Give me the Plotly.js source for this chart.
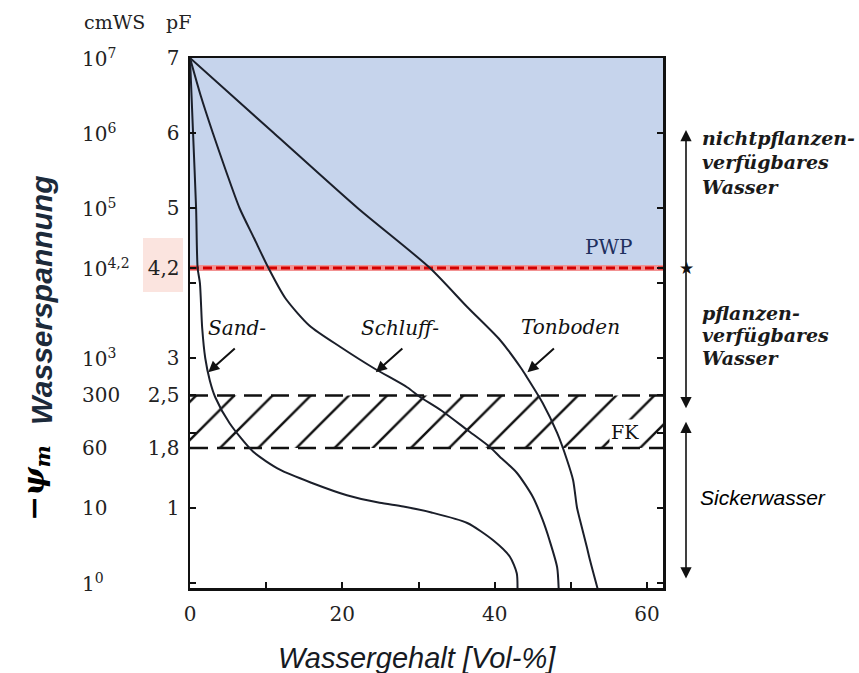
<!DOCTYPE html>
<html><head><meta charset="utf-8">
<script src="https://cdn.plot.ly/plotly-3.0.1.min.js"></script>
<style>html,body{margin:0;padding:0;background:#fff}#chart{width:859px;height:673px}</style>
</head><body><div id="chart"></div>
<script>
// ---- data (x = Wassergehalt Vol-%, y = pF) ----
const sandX  = [0, 0.4, 0.8, 1.0, 1.3, 1.6, 2.0, 2.6, 3.3, 5.2, 8.3, 11.8, 16.1, 20.6, 24.9, 28.0, 31.7, 36.4, 39.8, 42.0, 42.9, 43.0];
const sandPF = [7, 6.0, 5.0, 4.2, 4.0, 3.4, 3.0, 2.7, 2.48, 2.13, 1.75, 1.51, 1.33, 1.17, 1.07, 1.02, 0.94, 0.8, 0.57, 0.35, 0.13, -0.07];
const schluffX  = [0, 1.4, 3.0, 4.7, 6.5, 8.4, 10.3, 12.5, 15.7, 19.7, 24.2, 28.5, 30.2, 33.0, 36.4, 39.4, 40.7, 42.9, 45.0, 46.3, 47.2, 48.2, 48.4];
const schluffPF = [7, 6.5, 6.0, 5.5, 5.0, 4.6, 4.2, 3.8, 3.43, 3.15, 2.86, 2.61, 2.48, 2.3, 2.04, 1.81, 1.68, 1.47, 1.15, 0.84, 0.57, 0.21, -0.07];
const tonX  = [0, 11.0, 22.0, 31.5, 36.4, 40.7, 43.5, 44.2, 46.3, 48.2, 49.5, 50.3, 50.8, 51.2, 52.1, 52.5, 53.5];
const tonPF = [7, 6.0, 5.0, 4.2, 3.68, 3.24, 2.86, 2.75, 2.4, 2.0, 1.64, 1.37, 1.01, 0.84, 0.48, 0.31, -0.07];

const pwp = 4.2, fkLow = 1.8, fkHigh = 2.5, pfMax = 7, pfMin = -0.067, xMax = 62.1;
const nfwTop = 6.04, pfwBottom = 2.33, sickTop = 2.15, sickBottom = 0.04;

const pfTickVals = [1, 1.8, 2.5, 3, 4.2, 5, 6, 7];
const pfTickText = ['1', '1,8', '2,5', '3', '4,2', '5', '6', '7'];
const pfMinorTicks = [0, 2, 4];
const cmwsVals = [7, 6, 5, 4.2, 3, 2.5, 1.8, 1, 0];
const cmwsText = ['10<sup>7</sup>', '10<sup>6</sup>', '10<sup>5</sup>', '10<sup>4,2</sup>', '10<sup>3</sup>', '300', '60', '10', '1<sup>0</sup>'];
const xTickVals = [0, 20, 40, 60];
const xTickText = ['0', '20', '40', '60'];
const xMinorTicks = [10, 30, 50];

// ---- layout helpers (pixel -> paper) ----
const L = 190, R = 663, T = 58, B = 588;
const px = v => (v - L) / (R - L);
const py = v => (B - v) / (B - T);
const serif = 'DejaVu Serif';
const ink = '#1b1f2a';

const curve = (x, y) => ({x, y, type: 'scatter', mode: 'lines', line: {color: ink, width: 2, shape: 'spline', smoothing: 0.7}, hoverinfo: 'skip', showlegend: false});

const traces = [
  {x: [0, xMax, xMax, 0], y: [fkLow, fkLow, fkHigh, fkHigh], type: 'scatter', mode: 'lines', fill: 'toself',
   line: {width: 0}, fillcolor: 'rgba(0,0,0,0)',
   fillpattern: {shape: '/', fgcolor: '#111', bgcolor: 'rgba(255,255,255,0)', size: 27, solidity: 0.09}, showlegend: false, hoverinfo: 'skip'},
  {x: [0, xMax], y: [fkHigh, fkHigh], type: 'scatter', mode: 'lines', line: {color: '#111', width: 2.5, dash: '18px,9px'}, showlegend: false},
  {x: [0, xMax], y: [fkLow, fkLow], type: 'scatter', mode: 'lines', line: {color: '#111', width: 2.5, dash: '18px,9px'}, showlegend: false},
  {x: [0, xMax], y: [pwp, pwp], type: 'scatter', mode: 'lines', line: {color: '#f29393', width: 6}, showlegend: false},
  {x: [0, xMax], y: [pwp, pwp], type: 'scatter', mode: 'lines', line: {color: '#d40000', width: 3, dash: '9px,4px'}, showlegend: false},
  curve(sandX, sandPF),
  curve(schluffX, schluffPF),
  curve(tonX, tonPF)
];

const ann = [];
const P = (o) => ann.push(Object.assign({xanchor: 'center', yanchor: 'middle', showarrow: false}, o));
// cmWS labels
cmwsVals.forEach((v, i) => P({xref: 'paper', yref: 'y', x: px(80), y: v, xanchor: 'left',
  text: cmwsText[i], font: {family: serif, size: 20, color: '#222'}}));
// header
P({xref: 'paper', yref: 'paper', x: px(114), y: py(22), text: 'cmWS', font: {family: serif, size: 19, color: '#222'}});
P({xref: 'paper', yref: 'paper', x: px(178), y: py(22), text: 'pF', font: {family: serif, size: 19, color: '#222'}});
// axis titles
P({xref: 'paper', yref: 'paper', x: px(41), y: py(300), textangle: -90, text: '<b><i>Wasserspannung</i></b>',
  font: {family: 'Liberation Sans', size: 30, color: '#1c2a3a'}});
P({xref: 'paper', yref: 'paper', x: px(36), y: py(483), textangle: -90, text: '<b><i>−ψ<sub>m</sub></i></b>',
  font: {family: serif, size: 30, color: '#000'}});
P({xref: 'paper', yref: 'paper', x: px(417), y: py(658), text: '<i>Wassergehalt [Vol-%]</i>',
  font: {family: 'Liberation Sans', size: 29, color: '#161a22'}});
// in-plot labels
const lab = (x, y, t, opts = {}) => P(Object.assign({xref: 'x', yref: 'y', x, y, text: t,
  font: {family: serif, size: 20, color: '#111'}}, opts));
lab(6.2, 3.40, '<i>Sand-</i>');
lab(27.6, 3.40, '<i>Schluff-</i>');
lab(49.9, 3.41, '<i>Tonboden</i>');
lab(54.9, 4.48, 'PWP', {font: {family: serif, size: 20, color: '#1e2f5e'}});
lab(57.1, 2.01, 'FK', {font: {family: serif, size: 19, color: '#111'}, bgcolor: '#ffffff', borderpad: 1});
// label arrows
const arr = (x, y) => ann.push({xref: 'x', yref: 'y', x, y, ax: 28, ay: -25, text: '', showarrow: true,
  arrowhead: 2, arrowsize: 1.1, arrowwidth: 2, arrowcolor: '#111'});
arr(2.4, 2.81); arr(24.4, 2.81); arr(44.3, 2.81);
// right side arrows
const vArrow = (yHead, yTail, both) => ann.push({xref: 'paper', yref: 'y', axref: 'pixel', ayref: 'y', x: px(686), y: yHead, ax: 0, ay: yTail,
  text: '', showarrow: true, arrowhead: 2, arrowsize: 1.4, arrowwidth: 1.6, arrowcolor: '#111',
  arrowside: both ? 'end+start' : 'end', startarrowhead: 2, startarrowsize: 1.4, standoff: 0, startstandoff: 0});
vArrow(nfwTop, pwp, false);
vArrow(pfwBottom, pwp, false);
vArrow(sickTop, sickBottom, true);
P({xref: 'paper', yref: 'y', x: px(686), y: pwp, text: '★', font: {family: 'DejaVu Sans', size: 17, color: '#111'}});
// right texts
const rt = (y, t) => P({xref: 'paper', yref: 'paper', x: px(700), y: py(y), xanchor: 'left', text: '<b><i>' + t + '</i></b>',
  font: {family: serif, size: 19, color: '#1a1a1a'}});
rt(138, 'nichtpflanzen-'); rt(162, 'verfügbares'); rt(187, 'Wasser');
rt(313, 'pflanzen-'); rt(335, 'verfügbares'); rt(358, 'Wasser');
P({xref: 'paper', yref: 'paper', x: px(698), y: py(497), xanchor: 'left', text: '<i>Sickerwasser</i>',
  font: {family: 'Liberation Sans', size: 21, color: '#000'}});

const layout = {
  width: 859, height: 673,
  margin: {l: L, r: 859 - R, t: T, b: 673 - B, pad: 0},
  paper_bgcolor: '#fff', plot_bgcolor: '#fff',
  showlegend: false,
  xaxis: {range: [0, xMax], tickmode: 'array', tickvals: xTickVals, ticktext: xTickText, ticks: 'inside', ticklen: 6, tickwidth: 2, tickcolor: '#111',
    minor: {tickmode: 'array', tickvals: xMinorTicks, ticks: 'inside', ticklen: 6, tickwidth: 2, tickcolor: '#111', showgrid: false},
    showgrid: false, zeroline: false, showline: true, linewidth: 2.5, linecolor: '#111', mirror: true,
    ticklabelstandoff: 6, tickfont: {family: serif, size: 20, color: '#222'}},
  yaxis: {range: [pfMin, pfMax], tickmode: 'array', tickvals: pfTickVals, ticktext: pfTickText, ticks: 'inside', ticklen: 6, tickwidth: 2, tickcolor: '#111',
    minor: {tickmode: 'array', tickvals: pfMinorTicks, ticks: 'inside', ticklen: 6, tickwidth: 2, tickcolor: '#111', showgrid: false},
    showgrid: false, zeroline: false, showline: true, linewidth: 2.5, linecolor: '#111', mirror: 'ticks',
    ticklabelstandoff: 4, tickfont: {family: serif, size: 20, color: '#222'}},
  shapes: [
    {type: 'rect', xref: 'x', yref: 'y', x0: 0, x1: xMax, y0: pwp, y1: pfMax, fillcolor: '#c6d4ec', line: {width: 0}, layer: 'below'},
    {type: 'rect', xref: 'paper', yref: 'paper', x0: px(143), x1: px(183), y0: py(292), y1: py(238), fillcolor: '#fbe4df', line: {width: 0}, layer: 'below'}
  ],
  annotations: ann
};

Plotly.newPlot('chart', traces, layout, {displayModeBar: false, staticPlot: true});
</script>
</body></html>
